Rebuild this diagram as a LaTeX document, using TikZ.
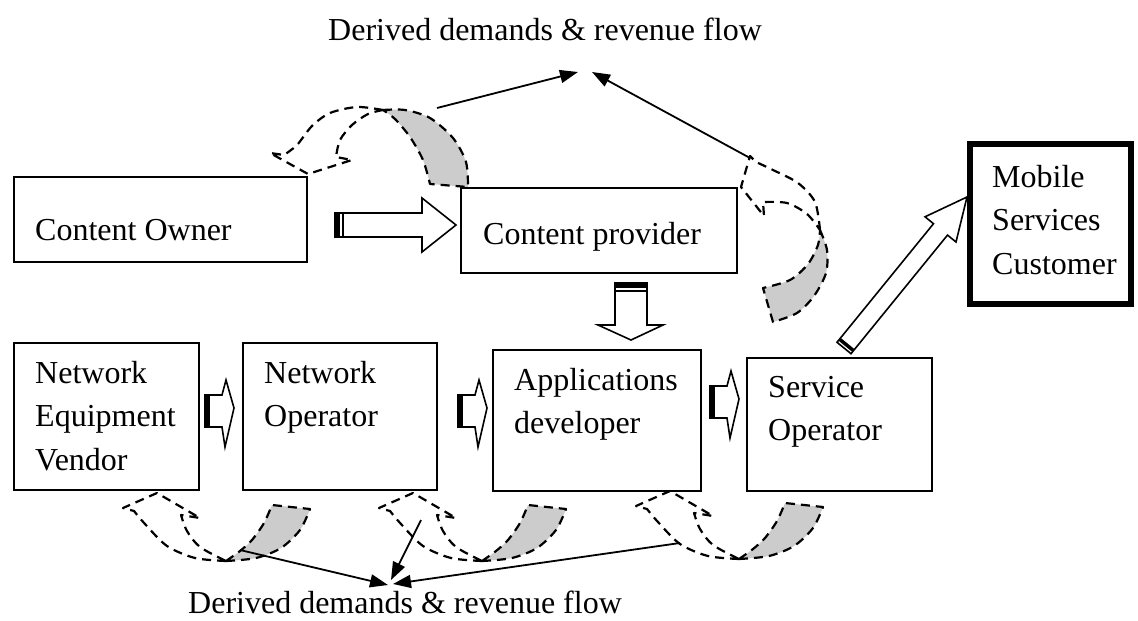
\documentclass[tikz,border=0pt]{standalone}
\usepackage{fontspec}
\setmainfont{Liberation Serif}
\usetikzlibrary{arrows.meta}
\begin{document}
\begin{tikzpicture}[x=1pt,y=-1pt,
  box/.style={draw, line width=1.8pt, inner sep=0pt, outer sep=0pt, anchor=north west},
  txt/.style={anchor=north west, inner sep=0pt, align=left, font=\fontsize{32}{43.5}\selectfont},
  lab/.style={inner sep=0pt, font=\fontsize{32}{43.5}\selectfont},
  dsh/.style={line width=2.2pt, dash pattern=on 9pt off 6pt, line join=round},
  shade/.style={fill=black!20},
  blk/.style={draw, fill=white, line width=1.6pt, line join=miter},
  con/.style={line width=1.8pt, -{Triangle[length=18pt,width=13pt]}}]
\useasboundingbox (0,0) rectangle (1138,621);

% boxes
\node[box, minimum width=293pt, minimum height=85pt] (owner) at (14,177) {};
\node[box, minimum width=276pt, minimum height=85pt] (provider) at (461,188) {};
\node[box, line width=6pt, minimum width=161pt, minimum height=160pt] (mobile) at (970,144) {};
\node[box, minimum width=185pt, minimum height=147pt] (nev) at (14,343) {};
\node[box, minimum width=194pt, minimum height=147pt] (netop) at (243,343) {};
\node[box, minimum width=208pt, minimum height=141pt] (appdev) at (493,350) {};
\node[box, minimum width=185pt, minimum height=133pt] (servop) at (747,358) {};

% texts
\node[txt] (towner) at (35,209.55) {\strut Content Owner};
\node[txt] (tprovider) at (483,213.55) {\strut Content provider};
\node[txt] (tmobile) at (992,156.55) {\strut Mobile\\\strut Services\\\strut Customer};
\node[txt] (tnev) at (35,352.55) {\strut Network\\\strut Equipment\\\strut Vendor};
\node[txt] (tnetop) at (264,352.55) {\strut Network\\\strut Operator};
\node[txt] (tappdev) at (514,359.55) {\strut Applications\\\strut developer};
\node[txt] (tservop) at (768,366.55) {\strut Service\\\strut Operator};
\node[lab, anchor=base] (toplab) at (545,40) {Derived demands \& revenue flow};
\node[lab, anchor=base west] (botlab) at (188,613) {Derived demands \& revenue flow};

% block arrows
\draw[blk] (335,213) -- (422,213) -- (422,198) -- (456,225) -- (422,252) -- (422,237) -- (335,237) -- cycle;
\fill (335,213) rectangle (340,237);
\draw[line width=1.5pt] (343,213) -- (343,237);

\draw[blk] (615,283) -- (647,283) -- (647,325) -- (663,325) -- (631,340) -- (598,325) -- (615,325) -- cycle;
\fill (615,283) rectangle (647,288);
\draw[line width=1.5pt] (615,291) -- (647,291);

\foreach \dx/\dy in {0/0, 253/0, 505/-9}{
  \begin{scope}[shift={(\dx,\dy)}]
    \draw[blk] (205,395) -- (222,395) -- (226,380) -- (234,408) -- (225,447) -- (222,427) -- (205,427) -- cycle;
    \fill (205,395) rectangle (210,427);
  \end{scope}
}

% mobile arrow
\draw[blk] (837,342.3) -- (933.5,223.7) -- (925,216.8) -- (967,197) -- (956,242) -- (947.5,235.1) -- (851,353.7) -- cycle;
\draw[line width=3.5pt] (839.5,339.2) -- (853.5,350.6);

% curved dashed arrows: top left
\filldraw[shade, dsh] plot[smooth] coordinates {(383,110) (405,110) (430,118) (453,138) (466,162) (468,187)}
  -- plot[smooth] coordinates {(430,184) (423,160) (410,137) (395,119) (383,110)} -- cycle;
\draw[dsh] plot[smooth] coordinates {(383,110) (357,107) (330,113) (312,126) (297,145) (284,155)}
  -- (270,153) -- (308,174) -- (352,160)
  -- plot[smooth] coordinates {(336,157) (340,140) (352,125) (368,114) (383,110)};

% top right
\filldraw[shade, dsh] plot[smooth] coordinates {(820,230) (827,250) (826,273) (814,296) (797,313) (773,322)}
  -- plot[smooth] coordinates {(763,288) (790,280) (808,264) (818,245) (820,230)} -- cycle;
\draw[dsh] plot[smooth] coordinates {(820,230) (815,202) (798,183) (773,170) (756,162)}
  -- (750,156) -- (741,187) -- (764,216)
  -- plot[smooth] coordinates {(763,202) (787,203) (807,214) (820,230)};

% bottom three
\foreach \dx/\dy in {0/0, 256/0, 513/-2}{
  \begin{scope}[shift={(\dx,\dy)}]
    \filldraw[shade, dsh] plot[smooth] coordinates {(226,561) (256,558) (281,548) (300,530) (310,509)}
      -- plot[smooth] coordinates {(272,505) (264,523) (252,540) (240,551) (226,561)} -- cycle;
    \draw[dsh] plot[smooth] coordinates {(226,561) (195,558) (167,546) (145,524) (134,511)}
      -- (123,508) -- (157,493) -- (200,518)
      -- plot[smooth] coordinates {(181,515) (187,531) (200,547) (226,561)};
  \end{scope}
}

% connectors to labels
\coordinate (a1) at (437,108);
\coordinate (a2) at (750,158);
\coordinate (t1) at (578,72);
\coordinate (t2) at (592,72);
\draw[con] (a1) -- (t1);
\draw[con] (a2) -- (t2);

\coordinate (b1) at (240,550);
\coordinate (b2) at (421,520);
\coordinate (b3) at (680,543);
\coordinate (e1) at (388,585);
\coordinate (e2) at (391,580);
\coordinate (e3) at (393,584);
\draw[con] (b1) -- (e1);
\draw[con] (b2) -- (e2);
\draw[con] (b3) -- (e3);
\end{tikzpicture}
\end{document}
